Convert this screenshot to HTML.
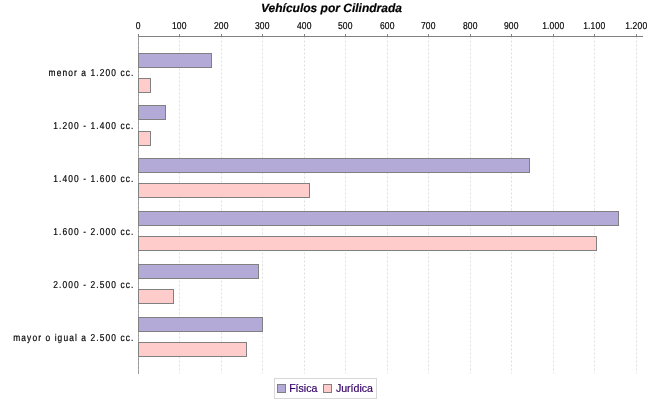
<!DOCTYPE html>
<html><head><meta charset="utf-8"><style>
html,body{margin:0;padding:0;background:#fff;width:650px;height:400px;overflow:hidden;}
svg{display:block;will-change:transform;}
text{font-family:"Liberation Sans",sans-serif;text-rendering:geometricPrecision;}
.t{font-size:12px;font-weight:bold;font-style:italic;fill:#000;stroke:#000;stroke-width:0.2px;}
.a{font-size:10px;fill:#000;letter-spacing:0.2px;stroke:#000;stroke-width:0.2px;}
.c{font-size:10px;fill:#000;letter-spacing:1.3px;stroke:#000;stroke-width:0.2px;}
.l{font-size:10.6px;fill:#330066;stroke:#330066;stroke-width:0.2px;text-rendering:auto;}
</style></head><body>
<svg width="650" height="400" viewBox="0 0 650 400">
<rect x="138" y="36" width="1" height="338" fill="#929292"/>
<line x1="138.5" y1="36.5" x2="138.5" y2="373.5" stroke="#C0C0C0" stroke-opacity="0.5" stroke-width="1" stroke-dasharray="2 2"/>
<line x1="179.5" y1="36.5" x2="179.5" y2="373.5" stroke="#C0C0C0" stroke-opacity="0.5" stroke-width="1" stroke-dasharray="2 2"/>
<line x1="221.5" y1="36.5" x2="221.5" y2="373.5" stroke="#C0C0C0" stroke-opacity="0.5" stroke-width="1" stroke-dasharray="2 2"/>
<line x1="262.5" y1="36.5" x2="262.5" y2="373.5" stroke="#C0C0C0" stroke-opacity="0.5" stroke-width="1" stroke-dasharray="2 2"/>
<line x1="304.5" y1="36.5" x2="304.5" y2="373.5" stroke="#C0C0C0" stroke-opacity="0.5" stroke-width="1" stroke-dasharray="2 2"/>
<line x1="345.5" y1="36.5" x2="345.5" y2="373.5" stroke="#C0C0C0" stroke-opacity="0.5" stroke-width="1" stroke-dasharray="2 2"/>
<line x1="387.5" y1="36.5" x2="387.5" y2="373.5" stroke="#C0C0C0" stroke-opacity="0.5" stroke-width="1" stroke-dasharray="2 2"/>
<line x1="428.5" y1="36.5" x2="428.5" y2="373.5" stroke="#C0C0C0" stroke-opacity="0.5" stroke-width="1" stroke-dasharray="2 2"/>
<line x1="470.5" y1="36.5" x2="470.5" y2="373.5" stroke="#C0C0C0" stroke-opacity="0.5" stroke-width="1" stroke-dasharray="2 2"/>
<line x1="511.5" y1="36.5" x2="511.5" y2="373.5" stroke="#C0C0C0" stroke-opacity="0.5" stroke-width="1" stroke-dasharray="2 2"/>
<line x1="553.5" y1="36.5" x2="553.5" y2="373.5" stroke="#C0C0C0" stroke-opacity="0.5" stroke-width="1" stroke-dasharray="2 2"/>
<line x1="594.5" y1="36.5" x2="594.5" y2="373.5" stroke="#C0C0C0" stroke-opacity="0.5" stroke-width="1" stroke-dasharray="2 2"/>
<line x1="636.5" y1="36.5" x2="636.5" y2="373.5" stroke="#C0C0C0" stroke-opacity="0.5" stroke-width="1" stroke-dasharray="2 2"/>
<g shape-rendering="crispEdges">
<rect x="138" y="36" width="505" height="1" fill="#808080"/>
<rect x="138" y="34" width="1" height="2" fill="#808080"/>
<rect x="179" y="34" width="1" height="2" fill="#808080"/>
<rect x="221" y="34" width="1" height="2" fill="#808080"/>
<rect x="262" y="34" width="1" height="2" fill="#808080"/>
<rect x="304" y="34" width="1" height="2" fill="#808080"/>
<rect x="345" y="34" width="1" height="2" fill="#808080"/>
<rect x="387" y="34" width="1" height="2" fill="#808080"/>
<rect x="428" y="34" width="1" height="2" fill="#808080"/>
<rect x="470" y="34" width="1" height="2" fill="#808080"/>
<rect x="511" y="34" width="1" height="2" fill="#808080"/>
<rect x="553" y="34" width="1" height="2" fill="#808080"/>
<rect x="594" y="34" width="1" height="2" fill="#808080"/>
<rect x="636" y="34" width="1" height="2" fill="#808080"/>
<rect x="138.5" y="53.5" width="73" height="14" fill="#B4AAD7" stroke="#808080" stroke-width="1"/>
<rect x="138.5" y="78.5" width="12" height="14" fill="#FFCCCC" stroke="#808080" stroke-width="1"/>
<rect x="138.5" y="105.5" width="27" height="14" fill="#B4AAD7" stroke="#808080" stroke-width="1"/>
<rect x="138.5" y="131.5" width="12" height="14" fill="#FFCCCC" stroke="#808080" stroke-width="1"/>
<rect x="138.5" y="158.5" width="391" height="14" fill="#B4AAD7" stroke="#808080" stroke-width="1"/>
<rect x="138.5" y="183.5" width="171" height="14" fill="#FFCCCC" stroke="#808080" stroke-width="1"/>
<rect x="138.5" y="211.5" width="480" height="14" fill="#B4AAD7" stroke="#808080" stroke-width="1"/>
<rect x="138.5" y="236.5" width="458" height="14" fill="#FFCCCC" stroke="#808080" stroke-width="1"/>
<rect x="138.5" y="264.5" width="120" height="14" fill="#B4AAD7" stroke="#808080" stroke-width="1"/>
<rect x="138.5" y="289.5" width="35" height="14" fill="#FFCCCC" stroke="#808080" stroke-width="1"/>
<rect x="138.5" y="317.5" width="124" height="14" fill="#B4AAD7" stroke="#808080" stroke-width="1"/>
<rect x="138.5" y="342.5" width="108" height="14" fill="#FFCCCC" stroke="#808080" stroke-width="1"/>
<rect x="274.5" y="378.5" width="102" height="20" fill="#fff" stroke="#D8D8D8" stroke-width="1"/>
<rect x="277.5" y="384.5" width="8" height="8" fill="#B4AAD7" stroke="#808080" stroke-width="1"/>
<rect x="323.5" y="384.5" width="8" height="8" fill="#FFCCCC" stroke="#808080" stroke-width="1"/>
</g>
<text class="t" x="331.5" y="12" text-anchor="middle">Vehículos por Cilindrada</text>
<text class="a" transform="translate(138.25,29) scale(0.85,1)" text-anchor="middle">0</text>
<text class="a" transform="translate(179.25,29) scale(0.85,1)" text-anchor="middle">100</text>
<text class="a" transform="translate(221.25,29) scale(0.85,1)" text-anchor="middle">200</text>
<text class="a" transform="translate(262.25,29) scale(0.85,1)" text-anchor="middle">300</text>
<text class="a" transform="translate(304.25,29) scale(0.85,1)" text-anchor="middle">400</text>
<text class="a" transform="translate(345.25,29) scale(0.85,1)" text-anchor="middle">500</text>
<text class="a" transform="translate(387.25,29) scale(0.85,1)" text-anchor="middle">600</text>
<text class="a" transform="translate(428.25,29) scale(0.85,1)" text-anchor="middle">700</text>
<text class="a" transform="translate(470.25,29) scale(0.85,1)" text-anchor="middle">800</text>
<text class="a" transform="translate(511.25,29) scale(0.85,1)" text-anchor="middle">900</text>
<text class="a" transform="translate(553.25,29) scale(0.85,1)" text-anchor="middle">1.000</text>
<text class="a" transform="translate(594.25,29) scale(0.85,1)" text-anchor="middle">1.100</text>
<text class="a" transform="translate(636.25,29) scale(0.85,1)" text-anchor="middle">1.200</text>
<text class="c" transform="translate(134.4,76) scale(0.84,1)" text-anchor="end">menor a 1.200 cc.</text>
<text class="c" transform="translate(134.4,129) scale(0.84,1)" text-anchor="end">1.200 - 1.400 cc.</text>
<text class="c" transform="translate(134.4,182) scale(0.84,1)" text-anchor="end">1.400 - 1.600 cc.</text>
<text class="c" transform="translate(134.4,235) scale(0.84,1)" text-anchor="end">1.600 - 2.000 cc.</text>
<text class="c" transform="translate(134.4,288) scale(0.84,1)" text-anchor="end">2.000 - 2.500 cc.</text>
<text class="c" transform="translate(134.4,341) scale(0.84,1)" text-anchor="end">mayor o igual a 2.500 cc.</text>
<text class="l" x="289.15" y="392">Física</text>
<text class="l" x="335.9" y="392">Jurídica</text>
</svg>
</body></html>
